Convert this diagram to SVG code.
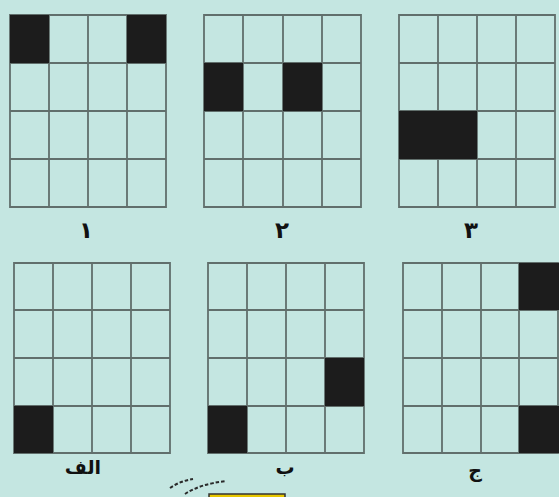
<svg xmlns="http://www.w3.org/2000/svg" width="559" height="497" viewBox="0 0 559 497">
<style>
.bg{fill:#c4e6e1}
.blk{fill:#1c1c1c}
.ln{fill:none;stroke:#56625f;stroke-width:1.8;stroke-opacity:0.9}
.lbl{font-family:"DejaVu Sans",sans-serif;font-weight:bold;font-size:19px;fill:#111;text-anchor:middle}
.num{font-size:23px}
.dash{fill:none;stroke:#2a2a2a;stroke-width:2;stroke-dasharray:3.5 2}
</style>
<rect class="bg" x="0" y="0" width="559" height="497"/>
<g id="grid1">
<path class="ln" d="M10 15H166V207H10Z M49 15V207 M88 15V207 M127 15V207 M10 63H166 M10 111H166 M10 159H166"/>
<rect class="blk" x="10" y="15" width="39" height="48"/>
<rect class="blk" x="127" y="15" width="39" height="48"/>
<text class="lbl num" x="86" y="238">۱</text>
</g>
<g id="grid2">
<path class="ln" d="M204 15H361V207H204Z M243 15V207 M283 15V207 M322 15V207 M204 63H361 M204 111H361 M204 159H361"/>
<rect class="blk" x="204" y="63" width="39" height="48"/>
<rect class="blk" x="283" y="63" width="39" height="48"/>
<text class="lbl num" x="282" y="238">۲</text>
</g>
<g id="grid3">
<path class="ln" d="M399 15H555V207H399Z M438 15V207 M477 15V207 M516 15V207 M399 63H555 M399 111H555 M399 159H555"/>
<rect class="blk" x="399" y="111" width="78" height="48"/>
<text class="lbl num" x="471" y="238">۳</text>
</g>
<g id="gridA">
<path class="ln" d="M14 263H170V453H14Z M53 263V453 M92 263V453 M131 263V453 M14 310H170 M14 358H170 M14 406H170"/>
<rect class="blk" x="14" y="406" width="39" height="47"/>
<text class="lbl" x="83" y="474">الف</text>
</g>
<g id="gridB">
<path class="ln" d="M208 263H364V453H208Z M247 263V453 M286 263V453 M325 263V453 M208 310H364 M208 358H364 M208 406H364"/>
<rect class="blk" x="325" y="358" width="39" height="48"/>
<rect class="blk" x="208" y="406" width="39" height="47"/>
<text class="lbl" x="285" y="474">ب</text>
</g>
<g id="gridC">
<path class="ln" d="M403 263H558V453H403Z M442 263V453 M481 263V453 M519 263V453 M403 310H558 M403 358H558 M403 406H558"/>
<rect class="blk" x="519" y="263" width="40" height="47"/>
<rect class="blk" x="519" y="406" width="40" height="47"/>
<text class="lbl" x="475" y="477">ج</text>
</g>
<g id="bottom">
<path class="dash" d="M170 488Q180 481 193 479"/>
<path class="dash" d="M185 494Q200 484 226 481"/>
<rect x="209" y="494" width="76" height="6" fill="#e8c800" stroke="#333" stroke-width="1.5"/>
</g>
</svg>
